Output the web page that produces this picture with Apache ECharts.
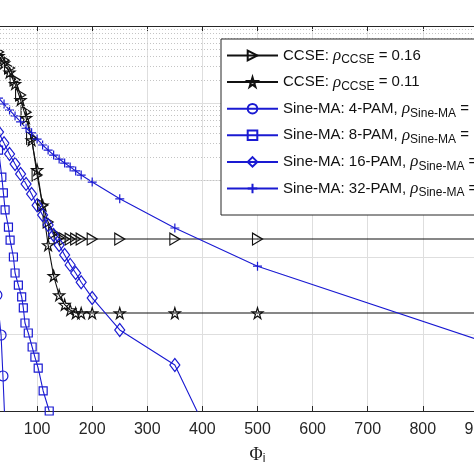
<!DOCTYPE html>
<html>
<head>
<meta charset="utf-8">
<script src="https://cdn.jsdelivr.net/npm/echarts@6/dist/echarts.min.js"></script>
<style>
html, body { margin: 0; padding: 0; background: #fff; }
#main { width: 474px; height: 474px; }
</style>
</head>
<body>
<div id="main"></div>
<script>
// x values (Phi_i) shared by the CCSE, 16-PAM and 32-PAM curves
var phi = [0, 10, 20, 30, 40, 50, 60, 70, 80, 90, 100, 110, 120, 130, 140, 150, 160, 170, 180, 200, 250, 350, 500, 1000]

var ccse16 = [0.76, 0.66, 0.57, 0.46, 0.36, 0.285, 0.20, 0.127, 0.076, 0.035, 0.0116, 0.0047, 0.00285, 0.00205, 0.00177, 0.00171, 0.00171, 0.00171, 0.00171, 0.00171, 0.00171, 0.00171, 0.00171, 0.00171]
var ccse11 = [0.66, 0.57, 0.49, 0.41, 0.33, 0.25, 0.177, 0.11, 0.064, 0.033, 0.0135, 0.0047, 0.00143, 0.00057, 0.00032, 0.00024, 0.000205, 0.000187, 0.000187, 0.000187, 0.000187, 0.000187, 0.000187, 0.000187]
var pam32 = [0.20, 0.166, 0.139, 0.116, 0.097, 0.081, 0.068, 0.057, 0.047, 0.041, 0.034, 0.0285, 0.0245, 0.0211, 0.0187, 0.0166, 0.0148, 0.0131, 0.0116, 0.0094, 0.0057, 0.00238, 0.00076, 0.0000488]
var pam16 = [0.127, 0.094, 0.064, 0.042, 0.030, 0.0218, 0.0161, 0.0120, 0.0089, 0.0066, 0.0047, 0.0035, 0.0026, 0.00193, 0.00143, 0.00106, 0.00079, 0.00062, 0.00047, 0.000294, 0.000113, 0.0000396, 0.00000023]

// 8-PAM and 4-PAM have their own sample points
var phi8 = [30, 36, 38.8, 41.9, 48, 51, 57, 60, 66, 72, 75, 78, 84, 91, 96, 102, 111, 122]
var pam8 = [0.0245, 0.0109, 0.0068, 0.0041, 0.00245, 0.00166, 0.0010, 0.00062, 0.00043, 0.000303, 0.000218, 0.000139, 0.000103, 0.0000678, 0.0000502, 0.0000361, 0.0000182, 0.0000100]
var phi4 = [20, 27, 34.6, 38, 41]
var pam4 = [0.01, 0.00032, 0.000097, 0.0000285, 0.0000087]

var names = ['CCSE16', 'CCSE11', 'PAM4', 'PAM8', 'PAM16', 'PAM32']
var legendLabels = [
    '{t|CCSE: }{r|ρ}{s|CCSE}{t| = 0.16}',
    '{t|CCSE: }{r|ρ}{s|CCSE}{t| = 0.11}',
    '{t|Sine-MA: 4-PAM, }{r|ρ}{s|Sine-MA}{t| =}',
    '{t|Sine-MA: 8-PAM, }{r|ρ}{s|Sine-MA}{t| =}',
    '{t|Sine-MA: 16-PAM, }{r|ρ}{s|Sine-MA}{t| =}',
    '{t|Sine-MA: 32-PAM, }{r|ρ}{s|Sine-MA}{t| =}'
]

function pairs(xs, ys) {
    var out = []
    for (let i = 0; i < ys.length; i++) {
        out.push([xs[i], ys[i]])
    }
    return out
}

// minor grid lines of the log axis (2..9 in every decade)
var minorLines = []
for (let d = -5; d < 0; d++) {
    for (let k = 2; k <= 9; k++) {
        minorLines.push({ yAxis: k * Math.pow(10, d) })
    }
}

var black = '#111111'
var blue = '#1a1ad2'
var hollow = 'rgba(255,255,255,0)'
var fontMain = 'Liberation Sans'

function makeSeries(name, data, color, symbol, size) {
    return {
        name: name,
        type: 'line',
        data: data,
        z: 3,
        symbol: symbol,
        symbolSize: size,
        showAllSymbol: true,
        lineStyle: { color: color, width: 1.1, type: 'solid' },
        itemStyle: { color: hollow, borderColor: color, borderWidth: 1.2 },
        emphasis: { disabled: true }
    }
}

var chart = echarts.init(document.getElementById('main'), null, { renderer: 'canvas' })

var option = {
    animation: false,
    backgroundColor: '#fff',
    grid: {
        left: -18,
        right: -59,
        top: 26,
        bottom: 63,
        containLabel: false,
        outerBoundsMode: 'none'
    },
    legend: {
        orient: 'vertical',
        left: 221,
        top: 39,
        z: 10,
        data: names,
        itemWidth: 51,
        itemHeight: 12,
        itemGap: 7.6,
        padding: [8, 6, 16, 5],
        borderColor: '#262626',
        borderWidth: 1,
        backgroundColor: '#fff',
        selectedMode: false,
        formatter: function (name) {
            return legendLabels[names.indexOf(name)]
        },
        textStyle: {
            rich: {
                t: { fontFamily: fontMain, fontSize: 15, color: '#111', verticalAlign: 'middle' },
                r: { fontFamily: 'Liberation Serif', fontStyle: 'italic', fontSize: 17, color: '#111', verticalAlign: 'middle' },
                s: { fontFamily: fontMain, fontSize: 12, color: '#111', padding: [9, 0, 0, 0], verticalAlign: 'bottom' }
            }
        }
    },
    xAxis: [{
        type: 'value',
        min: 0,
        max: 1000,
        interval: 100,
        position: 'bottom',
        name: '{p|Φ}{s|i}',
        nameLocation: 'middle',
        nameGap: 34,
        nameTextStyle: {
            rich: {
                p: { fontFamily: 'Liberation Serif', fontSize: 18, color: '#1a1a1a', lineHeight: 20 },
                s: { fontFamily: fontMain, fontSize: 12, color: '#1a1a1a', lineHeight: 12, verticalAlign: 'bottom' }
            }
        },
        axisLine: { show: true, lineStyle: { color: '#262626', width: 1 } },
        axisTick: { show: true, inside: true, length: 5, lineStyle: { color: '#262626' } },
        axisLabel: { fontFamily: fontMain, fontSize: 16, color: '#262626', margin: 11 },
        splitLine: { show: true, lineStyle: { color: '#dedede', width: 1 } }
    }, {
        type: 'value',
        min: 0,
        max: 1000,
        interval: 100,
        position: 'top',
        axisLine: { show: true, lineStyle: { color: '#262626', width: 1 } },
        axisTick: { show: true, inside: true, length: 5, lineStyle: { color: '#262626' } },
        axisLabel: { show: false },
        splitLine: { show: false }
    }],
    yAxis: {
        type: 'log',
        logBase: 10,
        min: 0.00001,
        max: 1,
        axisLine: { show: true, lineStyle: { color: '#262626' } },
        axisTick: { show: false },
        axisLabel: { show: false },
        splitLine: { show: true, lineStyle: { color: '#dedede', width: 1 } }
    },
    series: [
        {
            name: 'grid',
            type: 'line',
            data: [],
            z: 1,
            silent: true,
            markLine: {
                silent: true,
                symbol: ['none', 'none'],
                label: { show: false },
                animation: false,
                lineStyle: { color: '#c4c4c4', width: 1, type: [1, 2] },
                emphasis: { disabled: true },
                data: minorLines
            }
        },
        makeSeries('CCSE16', pairs(phi, ccse16), black, 'path://M0,0L10,5L0,10Z', [10, 12]),
        makeSeries('CCSE11', pairs(phi, ccse11), black, 'path://M50,0L61,35L98,35L68,57L79,91L50,70L21,91L32,57L2,35L39,35Z', 11),
        makeSeries('PAM4', pairs(phi4, pam4), blue, 'circle', 10),
        makeSeries('PAM8', pairs(phi8, pam8), blue, 'rect', 8),
        makeSeries('PAM16', pairs(phi, pam16), blue, 'diamond', [10, 13]),
        makeSeries('PAM32', pairs(phi, pam32), blue, 'path://M5,0L5,10M0,5L10,5', 9)
    ]
}

chart.setOption(option)
</script>
</body>
</html>
